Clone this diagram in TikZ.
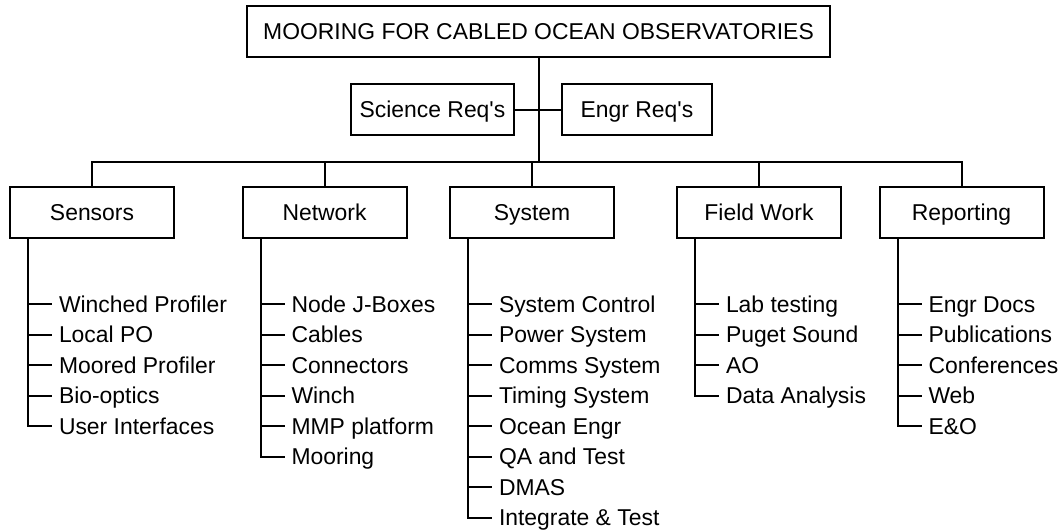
\documentclass[tikz,border=0pt]{standalone}
\usepackage{fontspec}
\setmainfont{Liberation Sans}
\usetikzlibrary{calc,positioning}
\tikzset{
  box/.style={draw, line width=1pt, minimum width=82pt, minimum height=25.5pt,
    inner sep=0pt, text height=8.2pt, text depth=0pt,
    font=\fontsize{11.45}{13}\selectfont},
  item/.style={anchor=west, inner xsep=3pt, inner ysep=0pt,
    text height=8.2pt, text depth=0pt, font=\fontsize{11.45}{13}\selectfont}
}

\begin{document}
\begin{tikzpicture}[x=0.5pt,y=-0.5pt,line width=1pt]
    \useasboundingbox (0,0) rectangle (1062,531);
    \node[box,minimum width=291.5pt] (main) at (538.5,31.5) {MOORING FOR CABLED OCEAN OBSERVATORIES};
    \node[box,minimum width=81.5pt] (sci) at (432.5,109.5) {Science Req\textquotesingle s};
    \node[box,minimum width=75pt] (engr) at (637,109.5) {Engr Req\textquotesingle s};
    \node[box] (sensors) at (92,212.5) {Sensors};
    \node[box] (network) at (324.5,212.5) {Network};
    \node[box] (system) at (532,212.5) {System};
    \node[box] (field) at (759,212.5) {Field Work};
    \node[box] (report) at (961.5,212.5) {Reporting};
    \coordinate (bus) at (538.5,162);
    \draw (main) -- (bus);
    \draw (sci) -- (engr);
    \draw (sensors.north) |- (bus) -| (report.north);
    \foreach \n in {network,system,field}
        \draw (\n.north) -- (\n.north |- bus);
    % lists under each box
    \foreach \t [count=\i] in {Winched Profiler,Local PO,Moored Profiler,Bio-optics,User Interfaces}
    {
        \node[item] (sen\i) at ($(sensors.south west)+(43,34.5+30.5*\i)$) {\t};
        \draw ($(sensors.south west)+(19,0)$) |- (sen\i.west);
    }
    \foreach \t [count=\i] in {Node J-Boxes,Cables,Connectors,Winch,MMP platform,Mooring}
    {
        \node[item] (net\i) at ($(network.south west)+(43,34.5+30.5*\i)$) {\t};
        \draw ($(network.south west)+(19,0)$) |- (net\i.west);
    }
    \foreach \t [count=\i] in {System Control,Power System,Comms System,Timing System,Ocean Engr,QA and Test,DMAS,Integrate \& Test}
    {
        \node[item] (sys\i) at ($(system.south west)+(43,34.5+30.5*\i)$) {\t};
        \draw ($(system.south west)+(19,0)$) |- (sys\i.west);
    }
    \foreach \t [count=\i] in {Lab testing,Puget Sound,AO,Data Analysis}
    {
        \node[item] (fld\i) at ($(field.south west)+(43,34.5+30.5*\i)$) {\t};
        \draw ($(field.south west)+(19,0)$) |- (fld\i.west);
    }
    \foreach \t [count=\i] in {Engr Docs,Publications,Conferences,Web,E\&O}
    {
        \node[item] (rep\i) at ($(report.south west)+(43,34.5+30.5*\i)$) {\t};
        \draw ($(report.south west)+(19,0)$) |- (rep\i.west);
    }
\end{tikzpicture}
\end{document}
